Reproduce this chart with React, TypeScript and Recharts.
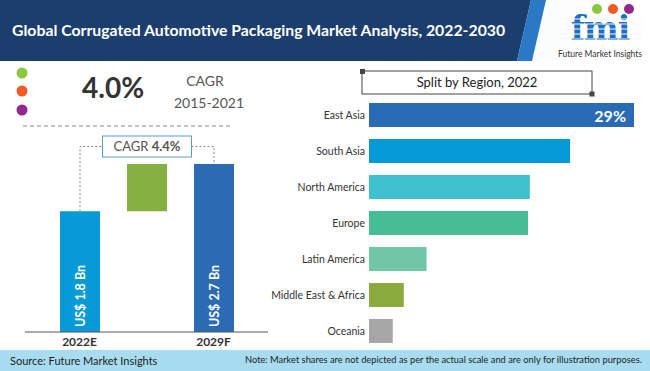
import React from "react";
import {
  Bar,
  BarChart,
  Cell,
  LabelList,
  XAxis,
  YAxis,
} from "recharts";

// market size waterfall (US$ Bn)
const years = ["2022E", "2029F"];
const marketSize = [1.8, 2.7];
const forecastCagr = 4.4;
const historicCagr = 4.0;
const historicPeriod = "2015-2021";

// regional split, 2022 (%)
const regions = [
  "East Asia",
  "South Asia",
  "North America",
  "Europe",
  "Latin America",
  "Middle East & Africa",
  "Oceania",
];
const regionShare = [29, 22, 17.6, 17.4, 6.3, 3.8, 2.6];
const regionColors = [
  "#2a6bb5",
  "#069bd8",
  "#3fc0cf",
  "#47bd95",
  "#6fc7a8",
  "#8aaa3e",
  "#a6a6a6",
];

const FONT = "Lato, 'Open Sans', sans-serif";
const AXIS_FLOOR = -0.5;

const waterfallRows = [
  { name: years[0], range: [AXIS_FLOOR, marketSize[0]], color: "#079ad7" },
  { name: "growth", range: [marketSize[0], marketSize[1]], color: "#86b042" },
  { name: years[1], range: [AXIS_FLOOR, marketSize[1]], color: "#2a6bb4" },
];

const regionRows = regions.map((r, i) => ({
  region: r,
  share: regionShare[i],
  color: regionColors[i],
}));

// waterfall layout
const WF_LEFT = 25;
const WF_RIGHT = 22;
const WF_WIDTH = 290;
const WF_PAD = 21;
const WF_STEP = (WF_WIDTH - WF_LEFT - WF_RIGHT - WF_PAD * 2) / 3;

function WaterfallLabel(props: any) {
  const { x, y, width, height, index } = props;
  const cx = x + width / 2;
  if (index === 1) {
    const boxTop = y - 28;
    const boxBottom = y - 7;
    const midY = (boxTop + boxBottom) / 2;
    const boxW = 89;
    const dot = { stroke: "#8a8a8a", strokeWidth: 1, strokeDasharray: "2 2", fill: "none" };
    return (
      <g>
        <path
          d={`M${cx - WF_STEP},${y + height} V${midY} H${cx - boxW / 2}`}
          {...dot}
        />
        <path
          d={`M${cx + boxW / 2},${midY} H${cx + WF_STEP} V${y}`}
          {...dot}
        />
        <rect
          x={cx - boxW / 2}
          y={boxTop}
          width={boxW}
          height={boxBottom - boxTop}
          fill="#fff"
          stroke="#5b9bd5"
          strokeWidth={1}
        />
        <text
          x={cx}
          y={midY + 4.5}
          textAnchor="middle"
          fontFamily={FONT}
          fontSize={13}
          fill="#555"
        >
          CAGR <tspan fontWeight={700}>{forecastCagr.toFixed(1)}%</tspan>
        </text>
      </g>
    );
  }
  const v = index === 0 ? marketSize[0] : marketSize[1];
  const cy = y + height - 36;
  return (
    <text
      x={cx}
      y={cy}
      transform={`rotate(-90 ${cx} ${cy})`}
      textAnchor="middle"
      dominantBaseline="central"
      fontFamily={FONT}
      fontSize={12.5}
      fontWeight={700}
      fill="#fff"
    >
      {`US$ ${v.toFixed(1)} Bn`}
    </text>
  );
}

function ShareLabel(props: any) {
  const { x, y, width, height, index, value } = props;
  if (index !== 0) return null;
  return (
    <text
      x={x + width - 8}
      y={y + height / 2}
      textAnchor="end"
      dominantBaseline="central"
      fontFamily={FONT}
      fontSize={16}
      fontWeight={700}
      fill="#fff"
    >
      {`${value}%`}
    </text>
  );
}

function RegionTick(props: any) {
  const { x, y, payload } = props;
  return (
    <text
      x={x}
      y={y}
      textAnchor="end"
      dominantBaseline="central"
      fontFamily={FONT}
      fontSize={10.5}
      fill="#333"
    >
      {payload.value}
    </text>
  );
}

function Header() {
  return (
    <svg width={650} height={62} style={{ position: "absolute", left: 0, top: 0 }}>
      <defs>
        <linearGradient id="logoBg" x1="0" y1="0" x2="1" y2="0">
          <stop offset="0" stopColor="#e9eef4" />
          <stop offset="1" stopColor="#ffffff" />
        </linearGradient>
      </defs>
      <rect x={0} y={0} width={650} height={61} fill="url(#logoBg)" />
      <polygon points="0,0 531,0 517,61 0,61" fill="#1c3e6e" />
      <polygon points="531,0 546,0 532,61 517,61" fill="#2b78c5" />
      <text
        x={12}
        y={36}
        fontFamily={FONT}
        fontSize={15.8}
        fontWeight={700}
        fill="#fff"
      >
        Global Corrugated Automotive Packaging Market Analysis, 2022-2030
      </text>
      {/* fmi logo */}
      <circle cx={597} cy={9} r={5} fill="#8dc63f" />
      <circle cx={613} cy={9} r={5} fill="#f15a24" />
      <circle cx={629} cy={9} r={5} fill="#92278f" />
      <text
        x={600}
        y={40}
        textAnchor="middle"
        fontFamily="'DejaVu Serif', serif"
        fontSize={33}
        fontWeight={700}
        fill="#1f6fc0"
        letterSpacing={-1}
      >
        fmi
      </text>
      {[19, 24, 29, 34, 39].map((ly) => (
        <line key={ly} x1={560} x2={642} y1={ly} y2={ly} stroke="#f3f6f9" strokeWidth={1} />
      ))}
      <text
        x={600}
        y={57}
        textAnchor="middle"
        fontFamily={FONT}
        fontSize={8.5}
        fill="#333"
      >
        Future Market Insights
      </text>
    </svg>
  );
}

function Kpi() {
  return (
    <svg width={260} height={70} style={{ position: "absolute", left: 0, top: 61 }}>
      <circle cx={22} cy={12} r={5.5} fill="#8dc63f" />
      <circle cx={22} cy={30} r={5.5} fill="#f15a24" />
      <circle cx={22} cy={49} r={5.5} fill="#92278f" />
      <text x={82} y={37} fontFamily={FONT} fontSize={28} fontWeight={700} fill="#333">
        {historicCagr.toFixed(1)}%
      </text>
      <text x={205} y={25} textAnchor="middle" fontFamily={FONT} fontSize={14} fill="#555">
        CAGR
      </text>
      <text x={209} y={47} textAnchor="middle" fontFamily={FONT} fontSize={14} fill="#555">
        {historicPeriod}
      </text>
      <line
        x1={23}
        x2={230}
        y1={65}
        y2={65}
        stroke="#c4c4c4"
        strokeWidth={2}
        strokeDasharray="4 3"
      />
    </svg>
  );
}

function Footer() {
  return (
    <div
      style={{
        position: "absolute",
        left: 0,
        top: 350,
        width: 650,
        height: 21,
        background: "#a8dcf0",
        fontFamily: FONT,
        color: "#222",
        whiteSpace: "nowrap",
      }}
    >
      <span style={{ position: "absolute", left: 10, top: 4, fontSize: 11 }}>
        Source: Future Market Insights
      </span>
      <span style={{ position: "absolute", left: 245, top: 4, fontSize: 9.3 }}>
        Note: Market shares are not depicted as per the actual scale and are only for
        illustration purposes.
      </span>
    </div>
  );
}

export default function App() {
  return (
    <div
      style={{
        position: "absolute",
        left: 0,
        top: 0,
        width: 650,
        height: 371,
        background: "#fff",
        overflow: "hidden",
      }}
    >
      <Header />
      <Kpi />

      <div style={{ position: "absolute", left: 0, top: 0 }}>
        <BarChart
          width={WF_WIDTH}
          height={371}
          data={waterfallRows}
          margin={{ top: 164, right: WF_RIGHT, bottom: 9, left: WF_LEFT }}
          barSize={40}
        >
          <XAxis
            dataKey="name"
            height={30}
            padding={{ left: WF_PAD, right: WF_PAD }}
            axisLine={{ stroke: "#555", strokeWidth: 1 }}
            tickLine={false}
            tickSize={0}
            tickMargin={5}
            tick={{ fontFamily: FONT, fontSize: 12, fontWeight: 700, fill: "#333" }}
            tickFormatter={(v) => (v === "growth" ? "" : v)}
            interval={0}
          />
          <YAxis hide domain={[AXIS_FLOOR, marketSize[1]]} />
          <Bar dataKey="range" isAnimationActive={false}>
            {waterfallRows.map((r) => (
              <Cell key={r.name} fill={r.color} />
            ))}
            <LabelList dataKey="range" content={WaterfallLabel} />
          </Bar>
        </BarChart>
      </div>

      {/* Split by region title box */}
      <svg width={650} height={100} style={{ position: "absolute", left: 0, top: 0 }}>
        <rect x={362} y={71} width={230} height={23} fill="#fff" stroke="#444" strokeWidth={1} />
        <rect x={360} y={69} width={5} height={5} fill="#444" />
        <rect x={589.5} y={91.5} width={5} height={5} fill="#444" />
        <text x={477} y={87} textAnchor="middle" fontFamily={FONT} fontSize={13} fill="#222">
          Split by Region, 2022
        </text>
      </svg>

      <div style={{ position: "absolute", left: 255, top: 0 }}>
        <BarChart
          layout="vertical"
          width={395}
          height={371}
          data={regionRows}
          margin={{ top: 97, right: 16, bottom: 22, left: 0 }}
          barSize={24}
        >
          <XAxis type="number" hide domain={[0, 29]} />
          <YAxis
            type="category"
            dataKey="region"
            width={114}
            axisLine={false}
            tickLine={false}
            tickSize={0}
            tickMargin={4}
            interval={0}
            tick={RegionTick}
          />
          <Bar dataKey="share" isAnimationActive={false}>
            {regionRows.map((r) => (
              <Cell key={r.region} fill={r.color} />
            ))}
            <LabelList dataKey="share" content={ShareLabel} />
          </Bar>
        </BarChart>
      </div>

      <Footer />
    </div>
  );
}
